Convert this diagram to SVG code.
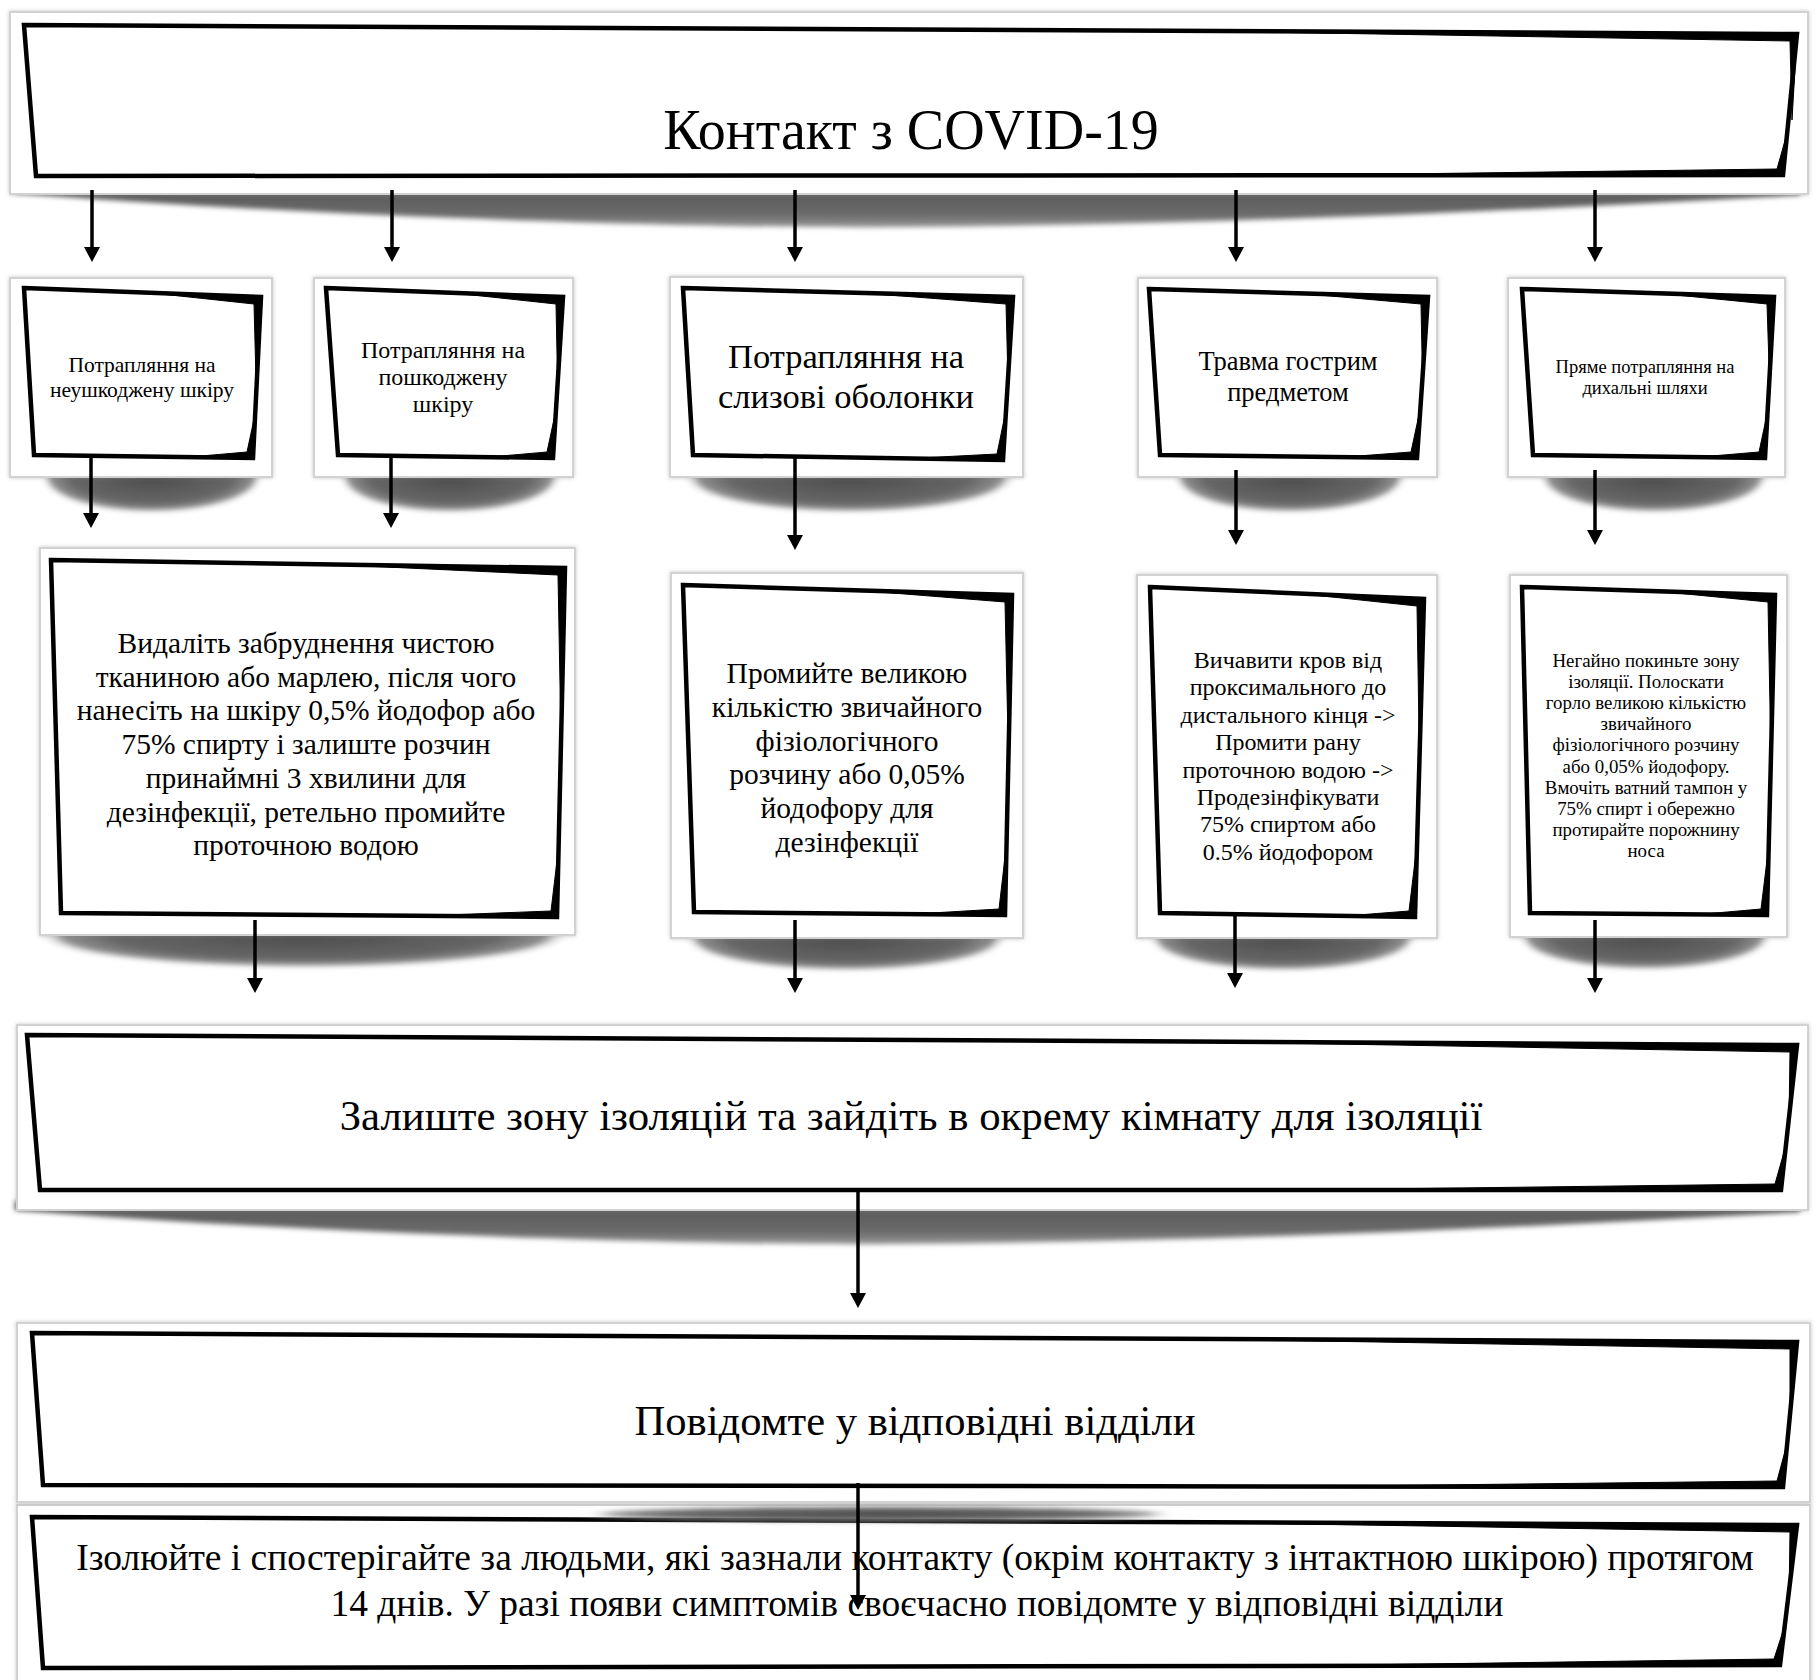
<svg xmlns="http://www.w3.org/2000/svg" xmlns:xlink="http://www.w3.org/1999/xlink" width="1820" height="1680" viewBox="0 0 1820 1680">
  <defs>
    <style>
      .frame { fill: #ffffff; stroke: #d2d2d2; stroke-width: 2; filter: url(#edge); }
      .box { fill: #ffffff; stroke: #000000; stroke-width: 4.5; stroke-linejoin: miter; }
      .heavy { fill: #000000; stroke: #000000; stroke-width: 1; stroke-linejoin: round; }
      .shade { fill: url(#shadeGrad); filter: url(#soften); }
      .band { fill: url(#bandGrad); filter: url(#soften); }
      .t { font-family: "Liberation Serif", "Times New Roman", "DejaVu Serif", serif; fill: #000000; text-anchor: middle; }
      .conn line { stroke: #000000; stroke-width: 3.5; marker-end: url(#arrowhead); }
    </style>
    <filter id="edge" x="-5%" y="-5%" width="110%" height="110%">
      <feDropShadow dx="0" dy="0" stdDeviation="2" flood-color="#888888" flood-opacity="0.45"/>
    </filter>
    <filter id="soften" x="-10%" y="-60%" width="120%" height="220%">
      <feGaussianBlur stdDeviation="2.5"/>
    </filter>
    <radialGradient id="shadeGrad" cx="50%" cy="50%" r="50%">
      <stop offset="0" stop-color="#4c4c4c"/>
      <stop offset="0.72" stop-color="#666666"/>
      <stop offset="0.9" stop-color="#8e8e8e"/>
      <stop offset="1" stop-color="#ffffff" stop-opacity="0"/>
    </radialGradient>
    <linearGradient id="bandGrad" x1="0" y1="0" x2="0" y2="1">
      <stop offset="0" stop-color="#565656"/>
      <stop offset="0.7" stop-color="#6a6a6a"/>
      <stop offset="1" stop-color="#959595"/>
    </linearGradient>
    <!-- long curved shadow used under the full-width banners -->
    <path id="bannerShade" d="M15,193 C300,216 700,229 900,227 C1200,225 1500,212 1800,195 L1800,184 L15,184 Z"/>
    <marker id="arrowhead" viewBox="0 0 15 16" refX="5" refY="8" markerWidth="15" markerHeight="16" markerUnits="userSpaceOnUse" orient="auto">
      <path d="M0,0 L15,8 L0,16 Z" fill="#000000"/>
    </marker>
  </defs>

  <rect width="1820" height="1680" fill="#ffffff"/>

  <!-- top banner -->
  <g id="n-contact">
    <use xlink:href="#bannerShade" class="band"/>
    <rect class="frame" x="10" y="12" width="1798" height="182"/>
    <polygon class="box" points="24,25 1797,34 1783,175 36,176"/>
    <polygon class="heavy" points="1200,31 1797,34 1792,120 1790,41"/>
    <polygon class="heavy" points="1300,175.3 1783,175 1788,130 1777,169"/>
    <text class="t" x="911" y="149" font-size="56">Контакт з COVID-19</text>
  </g>

  <!-- exposure types -->
  <g id="n-intact-skin">
    <ellipse class="shade" cx="152" cy="477" rx="112" ry="36"/>
    <rect class="frame" x="10" y="278" width="262" height="199"/>
    <polygon class="box" points="24,288 261,297 253,458 34,455"/>
    <polygon class="heavy" points="150,292.8 261,297 256,380 254,304"/>
    <polygon class="heavy" points="190,457 253,458 256,410 247,452"/>
    <text class="t" x="142" y="372" font-size="21.5">Потрапляння на</text>
    <text class="t" x="142" y="397" font-size="21.5">неушкоджену шкіру</text>
  </g>

  <g id="n-damaged-skin">
    <ellipse class="shade" cx="450" cy="477" rx="112" ry="36"/>
    <rect class="frame" x="314" y="278" width="259" height="199"/>
    <polygon class="box" points="326,288 563,297 553,458 338,455"/>
    <polygon class="heavy" points="452,292.8 563,297 557.5,380 556,304"/>
    <polygon class="heavy" points="490,457 553,458 556,410 547,452"/>
    <text class="t" x="443" y="358" font-size="24">Потрапляння на</text>
    <text class="t" x="443" y="385" font-size="24">пошкоджену</text>
    <text class="t" x="443" y="412" font-size="24">шкіру</text>
  </g>

  <g id="n-mucosa">
    <ellipse class="shade" cx="850" cy="477" rx="168" ry="36"/>
    <rect class="frame" x="670" y="277" width="353" height="200"/>
    <polygon class="box" points="683,288 1013,297 1003,460 693,455"/>
    <polygon class="heavy" points="860,292.8 1013,297 1008,380 1006,304"/>
    <polygon class="heavy" points="910,458.5 1003,460 1006,410 997,454"/>
    <text class="t" x="846" y="368" font-size="34.5">Потрапляння на</text>
    <text class="t" x="846" y="408" font-size="34.5">слизові оболонки</text>
  </g>

  <g id="n-sharp-injury">
    <ellipse class="shade" cx="1290" cy="477" rx="118" ry="36"/>
    <rect class="frame" x="1138" y="278" width="299" height="199"/>
    <polygon class="box" points="1149,289 1428,297 1417,458 1160,455"/>
    <polygon class="heavy" points="1300,293.3 1428,297 1422.5,380 1421,304"/>
    <polygon class="heavy" points="1345,457 1417,458 1420,410 1411,452"/>
    <text class="t" x="1288" y="370" font-size="26.5">Травма гострим</text>
    <text class="t" x="1288" y="401" font-size="26.5">предметом</text>
  </g>

  <g id="n-airway">
    <ellipse class="shade" cx="1654" cy="477" rx="116" ry="36"/>
    <rect class="frame" x="1508" y="278" width="277" height="199"/>
    <polygon class="box" points="1522,289 1774,297 1765,458 1533,455"/>
    <polygon class="heavy" points="1660,293.4 1774,297 1769.5,380 1767,304"/>
    <polygon class="heavy" points="1700,457 1765,458 1768,410 1759,452"/>
    <text class="t" x="1645" y="373" font-size="18.5">Пряме потрапляння на</text>
    <text class="t" x="1645" y="394" font-size="18.5">дихальні шляхи</text>
  </g>

  <!-- first aid steps -->
  <g id="n-skin-care">
    <ellipse class="shade" cx="304" cy="935" rx="268" ry="33"/>
    <rect class="frame" x="40" y="548" width="535" height="387"/>
    <polygon class="box" points="51,560 565,568 557,917 61,913"/>
    <polygon class="heavy" points="330,564.4 565,568 561,740 558,575"/>
    <polygon class="heavy" points="420,916 557,917 559.5,840 551,911"/>
    <text class="t" x="306" y="653" font-size="29.5">Видаліть забруднення чистою</text>
    <text class="t" x="306" y="686.5" font-size="29.5">тканиною або марлею, після чого</text>
    <text class="t" x="306" y="720" font-size="29.5">нанесіть на шкіру 0,5% йодофор або</text>
    <text class="t" x="306" y="754" font-size="29.5">75% спирту і залиште розчин</text>
    <text class="t" x="306" y="788" font-size="29.5">принаймні 3 хвилини для</text>
    <text class="t" x="306" y="821.5" font-size="29.5">дезінфекції, ретельно промийте</text>
    <text class="t" x="306" y="855" font-size="29.5">проточною водою</text>
  </g>

  <g id="n-mucosa-care">
    <ellipse class="shade" cx="846" cy="938" rx="163" ry="33"/>
    <rect class="frame" x="671" y="573" width="352" height="365"/>
    <polygon class="box" points="683,585 1012,595 1005,915 694,912"/>
    <polygon class="heavy" points="860,590.4 1012,595 1008.5,760 1005,602"/>
    <polygon class="heavy" points="915,914 1005,915 1007,840 999,909"/>
    <text class="t" x="847" y="683" font-size="29.5">Промийте великою</text>
    <text class="t" x="847" y="717" font-size="29.5">кількістю звичайного</text>
    <text class="t" x="847" y="750.5" font-size="29.5">фізіологічного</text>
    <text class="t" x="847" y="784" font-size="29.5">розчину або 0,05%</text>
    <text class="t" x="847" y="818" font-size="29.5">йодофору для</text>
    <text class="t" x="847" y="852" font-size="29.5">дезінфекції</text>
  </g>

  <g id="n-wound-care">
    <ellipse class="shade" cx="1283" cy="938" rx="136" ry="33"/>
    <rect class="frame" x="1137" y="575" width="300" height="363"/>
    <polygon class="box" points="1150,587 1424,599 1415,917 1160,913"/>
    <polygon class="heavy" points="1300,593.6 1424,599 1419.5,760 1417,606"/>
    <polygon class="heavy" points="1345,916 1415,917 1417.5,840 1409,911"/>
    <text class="t" x="1288" y="668" font-size="24">Вичавити кров від</text>
    <text class="t" x="1288" y="695.4" font-size="24">проксимального до</text>
    <text class="t" x="1288" y="722.8" font-size="24">дистального кінця -&gt;</text>
    <text class="t" x="1288" y="750.2" font-size="24">Промити рану</text>
    <text class="t" x="1288" y="777.6" font-size="24">проточною водою -&gt;</text>
    <text class="t" x="1288" y="805" font-size="24">Продезінфікувати</text>
    <text class="t" x="1288" y="832.4" font-size="24">75% спиртом або</text>
    <text class="t" x="1288" y="859.8" font-size="24">0.5% йодофором</text>
  </g>

  <g id="n-airway-care">
    <ellipse class="shade" cx="1645" cy="937" rx="128" ry="33"/>
    <rect class="frame" x="1510" y="575" width="277" height="362"/>
    <polygon class="box" points="1522,587 1775,595 1767,915 1530,913"/>
    <polygon class="heavy" points="1660,591.4 1775,595 1771,760 1768,602"/>
    <polygon class="heavy" points="1700,914.4 1767,915 1769.5,840 1761,909"/>
    <text class="t" x="1646" y="667" font-size="18.9">Негайно покиньте зону</text>
    <text class="t" x="1646" y="688.1" font-size="18.9">ізоляції. Полоскати</text>
    <text class="t" x="1646" y="709.2" font-size="18.9">горло великою кількістю</text>
    <text class="t" x="1646" y="730.3" font-size="18.9">звичайного</text>
    <text class="t" x="1646" y="751.4" font-size="18.9">фізіологічного розчину</text>
    <text class="t" x="1646" y="772.5" font-size="18.9">або 0,05% йодофору.</text>
    <text class="t" x="1646" y="793.6" font-size="18.9">Вмочіть ватний тампон у</text>
    <text class="t" x="1646" y="814.7" font-size="18.9">75% спирт і обережно</text>
    <text class="t" x="1646" y="835.8" font-size="18.9">протирайте порожнину</text>
    <text class="t" x="1646" y="856.9" font-size="18.9">носа</text>
  </g>

  <!-- follow-up steps -->
  <g id="n-leave-zone">
    <use xlink:href="#bannerShade" class="band" transform="translate(0,1017)"/>
    <rect class="frame" x="17" y="1025" width="1791" height="185"/>
    <polygon class="box" points="27,1035 1797,1045 1781,1190 40,1190"/>
    <polygon class="heavy" points="1200,1041.6 1797,1045 1789,1120 1790,1052"/>
    <polygon class="heavy" points="1300,1190 1781,1190 1786,1145 1775,1184"/>
    <text class="t" x="911" y="1130" font-size="42.8">Залиште зону ізоляцій та зайдіть в окрему кімнату для ізоляції</text>
  </g>

  <g id="n-observe">
    <rect class="frame" x="17" y="1505" width="1793" height="190"/>
    <polygon class="box" points="32,1517 1797,1525 1780,1665 43,1668"/>
    <polygon class="heavy" points="1200,1522.3 1797,1525 1789,1600 1790,1532"/>
    <polygon class="heavy" points="1300,1665.8 1780,1665 1785,1625 1774,1659"/>
    <text class="t" x="915" y="1570" font-size="37.5">Ізолюйте і спостерігайте за людьми, які зазнали контакту (окрім контакту з інтактною шкірою) протягом</text>
    <text class="t" x="917" y="1616" font-size="37.5">14 днів. У разі появи симптомів своєчасно повідомте у відповідні відділи</text>
  </g>

  <g id="n-report">
    <ellipse class="shade" cx="880" cy="1514" rx="300" ry="8"/>
    <rect class="frame" x="17" y="1323" width="1793" height="179"/>
    <polygon class="box" points="32,1333 1797,1342 1783,1487 43,1485"/>
    <polygon class="heavy" points="1200,1339 1797,1342 1790,1420 1790,1349"/>
    <polygon class="heavy" points="1300,1486.6 1783,1487 1788,1440 1777,1481"/>
    <text class="t" x="915" y="1435" font-size="42.6">Повідомте у відповідні відділи</text>
  </g>

  <!-- connectors -->
  <g id="connectors" class="conn">
    <line x1="92" y1="190" x2="92" y2="252"/>
    <line x1="392" y1="190" x2="392" y2="252"/>
    <line x1="795" y1="190" x2="795" y2="252"/>
    <line x1="1236" y1="190" x2="1236" y2="252"/>
    <line x1="1595" y1="190" x2="1595" y2="252"/>
    <line x1="91" y1="457" x2="91" y2="518"/>
    <line x1="391" y1="457" x2="391" y2="518"/>
    <line x1="795" y1="457" x2="795" y2="540"/>
    <line x1="1236" y1="470" x2="1236" y2="535"/>
    <line x1="1595" y1="470" x2="1595" y2="535"/>
    <line x1="255" y1="920" x2="255" y2="983"/>
    <line x1="795" y1="920" x2="795" y2="983"/>
    <line x1="1235" y1="915" x2="1235" y2="978"/>
    <line x1="1595" y1="920" x2="1595" y2="983"/>
    <line x1="858" y1="1190" x2="858" y2="1298"/>
    <line x1="858" y1="1483" x2="858" y2="1600"/>
  </g>
</svg>
